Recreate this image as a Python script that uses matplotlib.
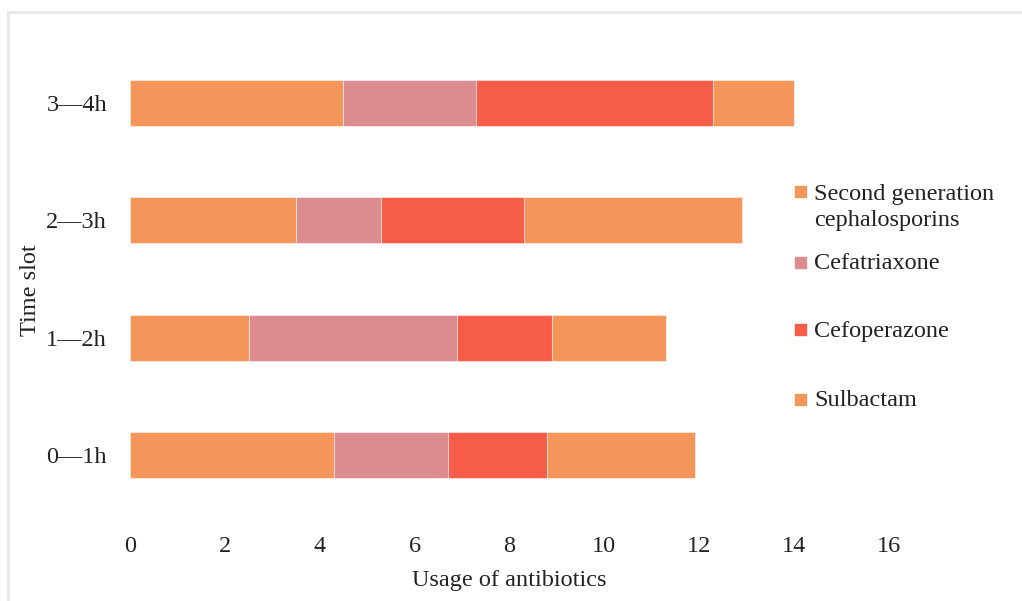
import matplotlib.pyplot as plt
from matplotlib.patches import Rectangle
from matplotlib.lines import Line2D

slots = ['0—1h', '1—2h', '2—3h', '3—4h']
second_gen = [4.3, 2.5, 3.5, 4.5]
cefatriaxone = [2.4, 4.4, 1.8, 2.8]
cefoperazone = [2.1, 2.0, 3.0, 5.0]
sulbactam = [3.1, 2.4, 4.6, 1.7]
series_names = ['Second generation\ncephalosporins', 'Cefatriaxone',
                'Cefoperazone', 'Sulbactam']
x_ticks = [0, 2, 4, 6, 8, 10, 12, 14, 16]

colors = ['#F4965A', '#DC8B8F', '#F65C47', '#F4965A']
txt = '#222222'
fs = 17.5

plt.rcParams['font.family'] = ['Liberation Serif', 'DejaVu Serif']

W, H = 1022, 601
fig = plt.figure(figsize=(W / 100, H / 100), dpi=100)
ax = fig.add_axes([130 / W, 1 - 514 / H, (889 - 130) / W, (514 - 44) / H])

# stacked horizontal bars
left = [0.0] * len(slots)
for vals, c in zip([second_gen, cefatriaxone, cefoperazone, sulbactam], colors):
    ax.barh(range(len(slots)), vals, left=left, height=0.39, color=c,
            edgecolor=(1, 1, 1, 0.45), linewidth=0.8)
    left = [l + v for l, v in zip(left, vals)]

ax.set_xlim(0, 16)
ax.set_ylim(-0.5, 3.5)
ax.set_xticks(x_ticks)
ax.set_xticklabels([str(t) for t in x_ticks])
ax.set_yticks(range(len(slots)))
ax.set_yticklabels(slots)
ax.tick_params(axis='both', length=0, labelsize=fs, colors=txt)
ax.tick_params(axis='x', pad=16)
ax.tick_params(axis='y', pad=16.5)
for s in ax.spines.values():
    s.set_visible(False)

ax.set_xlabel('Usage of antibiotics', fontsize=fs, color=txt, labelpad=9)
fig.text(30 / W, 1 - 290 / H, 'Time slot', fontsize=fs, color=txt,
         rotation=90, ha='center', va='center')

# legend drawn by hand to keep the wide spacing
legend_y = [192, 262, 330, 399]
for i, (name, c, y) in enumerate(zip(series_names, colors, legend_y)):
    fig.patches.append(Rectangle((795 / W, 1 - (y + 5.5) / H), 11 / W, 11 / H,
                                 transform=fig.transFigure, color=c))
    if i == 0:
        fig.text(814 / W, 1 - (y - 8) / H, name, fontsize=fs, color=txt,
                 va='top', ha='left', linespacing=1.3)
    else:
        fig.text(814 / W, 1 - (y + 1) / H, name, fontsize=fs, color=txt,
                 va='center', ha='left')

# light outer frame
frame_kw = dict(color='#E8E8E8', linewidth=2, transform=fig.transFigure)
fig.add_artist(Line2D([8 / W, 8 / W], [0, 1 - 12 / H], **frame_kw))
fig.add_artist(Line2D([8 / W, 1], [1 - 12 / H, 1 - 12 / H], **frame_kw))

fig.savefig('out.png', dpi=100)
